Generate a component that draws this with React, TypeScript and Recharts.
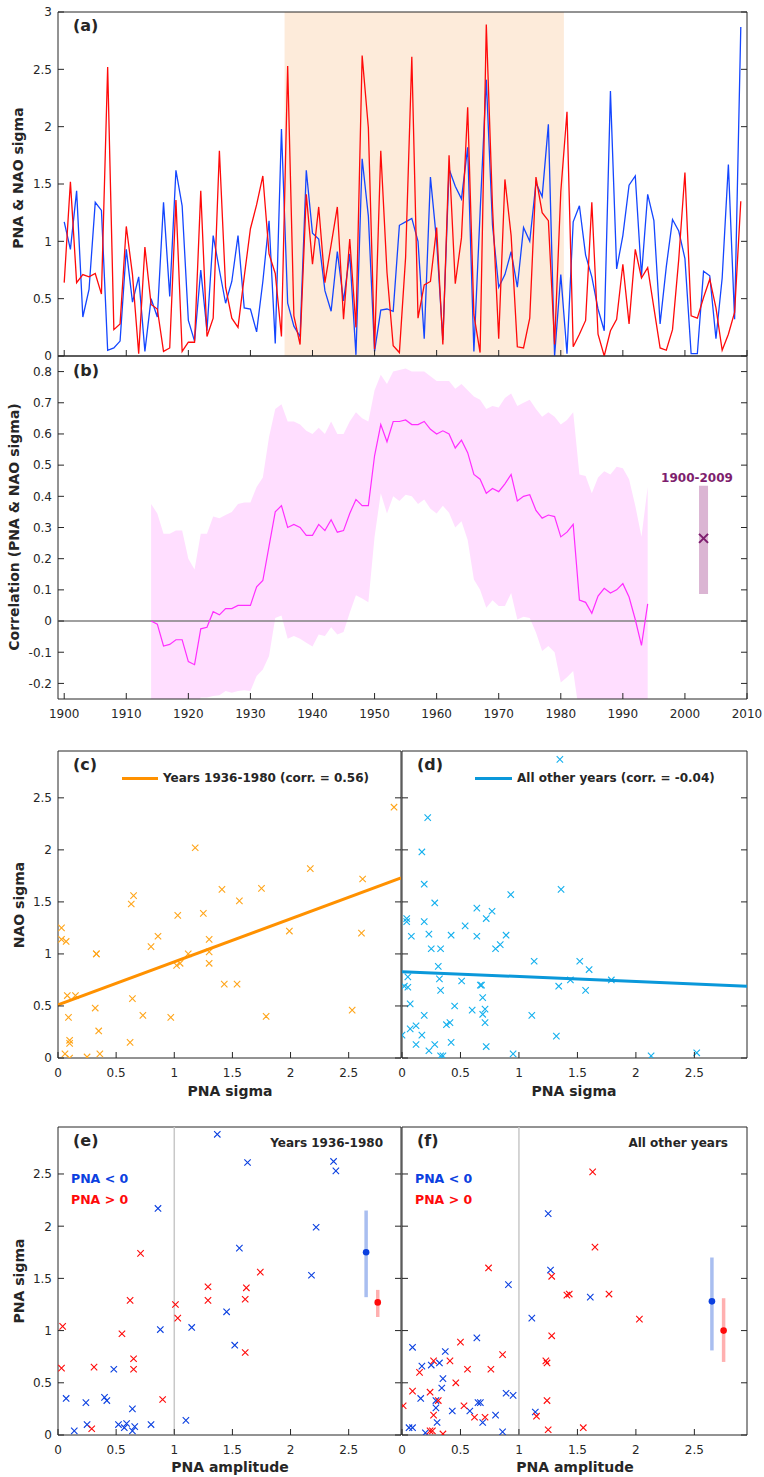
import React from "react";
import {
  ComposedChart, ScatterChart, Line, Area, Scatter, XAxis, YAxis,
  ReferenceArea, ReferenceLine, ErrorBar,
} from "recharts";

const FONT = "DejaVu Sans";
const AXIS = "#262626";
const RED = "#FF0A0A";
const BLUE = "#1446FF";
const MK_BLUE = "#0B40E0";
const ORANGE_MK = "#FFA51A";
const ORANGE = "#FF9100";
const CYAN_MK = "#14B0EE";
const CYAN = "#0A98DA";
const PURPLE = "#7E1E6E";

// ── Panel (a): yearly sigma, 1900-2009 ───────────────────────────────────
const FIRST_YEAR = 1900;
const PNA_SIGMA = [
  0.64, 1.52, 0.64, 0.71, 0.69, 0.72, 0.54, 2.52, 0.23, 0.28,
  1.13, 0.71, 0.02, 0.95, 0.45, 0.41, 0.04, 0.07, 1.36, 0.04,
  0.12, 0.12, 1.44, 0.17, 0.33, 1.79, 0.60, 0.33, 0.25, 0.69,
  1.11, 1.32, 1.57, 0.89, 0.72, 0.17, 2.53, 0.35, 0.10, 1.41,
  0.80, 1.30, 0.64, 0.97, 1.30, 0.32, 1.02, 0.25, 2.62, 1.99,
  0.06, 1.79, 0.73, 0.09, 0.03, 0.86, 2.61, 0.33, 0.62, 0.65,
  1.12, 0.10, 1.75, 0.63, 1.03, 2.17, 0.36, 0.03, 2.89, 1.30,
  0.15, 1.54, 1.05, 0.08, 0.07, 0.33, 1.56, 1.25, 1.18, 0.10,
  1.43, 2.13, 0.08, 0.19, 0.31, 1.34, 0.19, 0.00, 0.22, 0.32,
  0.80, 0.28, 0.93, 0.68, 0.77, 0.42, 0.07, 0.05, 0.23, 0.84,
  1.60, 0.35, 0.33, 0.51, 0.67, 0.42, 0.05, 0.19, 0.38, 1.35,
];
const NAO_SIGMA = [
  1.17, 0.93, 1.44, 0.34, 0.58, 1.34, 1.27, 0.05, 0.07, 0.13,
  0.93, 0.47, 0.69, 0.04, 0.50, 0.34, 1.34, 0.52, 1.62, 1.31,
  0.31, 0.13, 0.75, 0.22, 1.05, 0.75, 0.46, 0.65, 1.05, 0.42,
  0.41, 0.21, 0.65, 1.18, 0.11, 1.98, 0.46, 0.26, 0.17, 1.62,
  1.07, 1.02, 0.57, 0.39, 0.91, 0.48, 0.89, 0.01, 1.72, 1.22,
  0.04, 0.40, 0.41, 0.39, 1.14, 1.17, 1.20, 1.00, 0.15, 1.56,
  1.00, 0.14, 1.63, 1.48, 1.37, 1.82, 0.04, 1.25, 2.41, 1.14,
  0.60, 0.71, 0.91, 0.60, 1.12, 1.00, 1.51, 1.39, 2.02, 0.00,
  0.71, 0.02, 1.17, 1.31, 0.88, 0.69, 0.41, 0.22, 2.31, 0.76,
  1.05, 1.49, 1.57, 0.70, 1.41, 1.18, 0.28, 0.78, 1.19, 1.09,
  0.85, 0.02, 0.02, 0.74, 0.70, 0.15, 0.68, 1.67, 0.32, 2.87,
];
const WINDOW = [1936, 1980];
const SHADE = [1935.5, 1980.5];

// ── Panel (b): running correlation, 1914-1994 ───────────────────────────
const CORR_START = 1914;
const CORR = [
  0.00, -0.01, -0.08, -0.075, -0.06, -0.06,
  -0.13, -0.14, -0.025, -0.02, 0.03, 0.02, 0.04, 0.04, 0.05, 0.05,
  0.05, 0.11, 0.13, 0.24, 0.35, 0.37, 0.30, 0.31, 0.30, 0.275,
  0.275, 0.31, 0.29, 0.325, 0.285, 0.29, 0.345, 0.39, 0.37, 0.37,
  0.53, 0.63, 0.575, 0.64, 0.64, 0.645, 0.63, 0.63, 0.64, 0.615,
  0.60, 0.61, 0.60, 0.555, 0.58, 0.54, 0.47, 0.455, 0.41, 0.425,
  0.415, 0.44, 0.47, 0.385, 0.40, 0.405, 0.355, 0.33, 0.34, 0.335,
  0.27, 0.285, 0.31, 0.067, 0.06, 0.025, 0.08, 0.105, 0.09, 0.10,
  0.12, 0.077, 0.005, -0.078, 0.055,
];
const CORR_HI = [
  0.375, 0.345, 0.28, 0.28, 0.29, 0.29,
  0.20, 0.165, 0.28, 0.28, 0.335, 0.33, 0.34, 0.35, 0.375, 0.38,
  0.38, 0.43, 0.46, 0.59, 0.68, 0.695, 0.64, 0.64, 0.63, 0.61,
  0.60, 0.62, 0.60, 0.64, 0.60, 0.60, 0.64, 0.67, 0.65, 0.64,
  0.74, 0.79, 0.76, 0.80, 0.805, 0.81, 0.80, 0.80, 0.80, 0.785,
  0.77, 0.77, 0.77, 0.745, 0.76, 0.74, 0.72, 0.71, 0.68, 0.69,
  0.685, 0.715, 0.73, 0.69, 0.70, 0.71, 0.68, 0.655, 0.67, 0.655,
  0.63, 0.645, 0.67, 0.47, 0.465, 0.41, 0.46, 0.48, 0.47, 0.495,
  0.49, 0.455, 0.37, 0.27, 0.43,
];
const CORR_LO = [
  -0.3, -0.3, -0.3, -0.3, -0.3, -0.3,
  -0.3, -0.28, -0.245, -0.245, -0.24, -0.238, -0.224, -0.23, -0.224, -0.222,
  -0.224, -0.176, -0.155, -0.112, 0.01, 0.018, -0.057, -0.048, -0.057, -0.07,
  -0.082, -0.043, -0.048, -0.02, -0.043, -0.035, 0.027, 0.083, 0.072, 0.06,
  0.27, 0.41, 0.345, 0.40, 0.385, 0.405, 0.40, 0.375, 0.39, 0.36,
  0.345, 0.37, 0.347, 0.30, 0.32, 0.26, 0.133, 0.10, 0.043, 0.067,
  0.048, 0.048, 0.09, 0.005, 0.014, 0.01, -0.037, -0.096, -0.08, -0.10,
  -0.197, -0.18, -0.16, -0.3, -0.3, -0.3, -0.3, -0.3, -0.3, -0.3,
  -0.3, -0.3, -0.3, -0.3, -0.3,
];
const FULL_CORR = { year: 2003, r: 0.265, lo: 0.087, hi: 0.434 };

// ── Panels (c),(d): fitted lines ─────────────────────────────────────────
const FIT_IN_X = [0, 2.95];
const FIT_IN_Y = [0.51, 1.73];
const FIT_OUT_X = [0, 2.95];
const FIT_OUT_Y = [0.83, 0.69];

// ── Panel (e): 1936-1980, PNA amplitude vs PNA sigma ────────────────────
const E_NEG_AMP = [1.37, 1.63, 2.37, 2.39, 0.86, 2.22, 1.56, 2.18, 1.45, 1.15, 0.88, 1.52, 0.48, 0.07, 0.40, 0.42, 0.24, 0.64, 1.10, 0.14, 0.25, 0.52, 0.57, 0.59, 0.66, 0.64, 0.80];
const E_NEG_SIG = [2.88, 2.61, 2.62, 2.53, 2.17, 1.99, 1.79, 1.53, 1.18, 1.03, 1.01, 0.86, 0.63, 0.35, 0.36, 0.33, 0.31, 0.25, 0.14, 0.04, 0.10, 0.10, 0.07, 0.11, 0.08, 0.04, 0.10];
const E_POS_AMP = [0.71, 1.74, 1.29, 1.62, 0.62, 1.29, 1.61, 1.01, 1.03, 0.04, 0.55, 1.61, 0.65, 0.03, 0.31, 0.65, 0.90, 0.29];
const E_POS_SIG = [1.74, 1.56, 1.42, 1.41, 1.29, 1.29, 1.30, 1.25, 1.12, 1.04, 0.97, 0.79, 0.73, 0.64, 0.65, 0.63, 0.34, 0.06];
const E_MEAN_NEG = { x: 2.65, y: 1.75, lo: 1.32, hi: 2.15 };
const E_MEAN_POS = { x: 2.75, y: 1.27, lo: 1.13, hi: 1.39 };

// ── Panel (f): all other years ───────────────────────────────────────────
const F_NEG_AMP = [1.25, 1.27, 0.91, 1.61, 1.11, 0.64, 0.09, 0.37, 0.17, 0.25, 0.32, 0.35, 0.34, 0.89, 0.95, 0.16, 0.29, 0.65, 0.67, 0.29, 0.43, 0.58, 0.80, 1.14, 0.30, 0.69, 0.06, 0.09, 0.20, 0.86];
const F_NEG_SIG = [2.12, 1.58, 1.44, 1.32, 1.12, 0.93, 0.84, 0.80, 0.66, 0.67, 0.69, 0.54, 0.45, 0.40, 0.38, 0.35, 0.33, 0.31, 0.31, 0.26, 0.23, 0.23, 0.19, 0.22, 0.12, 0.12, 0.07, 0.07, 0.02, 0.03];
const F_POS_AMP = [1.63, 1.65, 0.74, 1.28, 1.41, 1.43, 1.77, 2.03, 1.28, 0.50, 0.41, 0.27, 0.86, 1.23, 1.24, 0.56, 0.76, 0.15, 0.46, 0.09, 0.24, 0.31, 1.24, 0.01, 0.53, 0.27, 0.62, 0.71, 1.15, 0.24, 0.26, 0.35, 1.25, 1.55];
const F_POS_SIG = [2.52, 1.80, 1.60, 1.52, 1.34, 1.35, 1.35, 1.11, 0.95, 0.89, 0.71, 0.71, 0.77, 0.71, 0.69, 0.63, 0.63, 0.60, 0.50, 0.42, 0.41, 0.33, 0.33, 0.28, 0.28, 0.19, 0.17, 0.17, 0.18, 0.04, 0.04, 0.01, 0.05, 0.07];
const F_MEAN_NEG = { x: 2.65, y: 1.28, lo: 0.81, hi: 1.70 };
const F_MEAN_POS = { x: 2.75, y: 1.00, lo: 0.70, hi: 1.31 };

// ── Ticks / domains ──────────────────────────────────────────────────────
const YEAR_TICKS = [1900, 1910, 1920, 1930, 1940, 1950, 1960, 1970, 1980, 1990, 2000, 2010];
const YEAR_DOMAIN = [1899, 2010];
const A_TICKS = [0, 0.5, 1, 1.5, 2, 2.5, 3];
const A_DOMAIN = [0, 3];
const B_TICKS = [-0.2, -0.1, 0, 0.1, 0.2, 0.3, 0.4, 0.5, 0.6, 0.7, 0.8];
const B_DOMAIN = [-0.25, 0.85];
const SIG_TICKS = [0, 0.5, 1, 1.5, 2, 2.5];
const SIG_DOMAIN = [0, 2.95];

// ── Derived tables ───────────────────────────────────────────────────────
const years = PNA_SIGMA.map((_, i) => FIRST_YEAR + i);
const seriesA = years.map((year, i) => ({ year, pna: PNA_SIGMA[i], nao: NAO_SIGMA[i] }));
const pairs = years.map((yr, i) => ({ yr, x: PNA_SIGMA[i], y: NAO_SIGMA[i] }));
const inWindow = pairs.filter((p) => p.yr >= WINDOW[0] && p.yr <= WINDOW[1]);
const outWindow = pairs.filter((p) => p.yr < WINDOW[0] || p.yr > WINDOW[1]);
const corrData = CORR.map((r, i) => ({ year: CORR_START + i, r, band: [CORR_LO[i], CORR_HI[i]] }));
const fullCorr = [{ ...FULL_CORR, err: [FULL_CORR.r - FULL_CORR.lo, FULL_CORR.hi - FULL_CORR.r] }];
const zip = (xs: number[], ys: number[]) => xs.map((x, i) => ({ x, y: ys[i] }));
const meanRow = (m: { x: number; y: number; lo: number; hi: number }) => [{ x: m.x, y: m.y, err: [m.y - m.lo, m.hi - m.y] }];

// ── Marker shapes ────────────────────────────────────────────────────────
const cross = (color: string, s = 3.2, w = 1.1) => (p: any) => {
  const { cx, cy } = p;
  if (cx == null || cy == null) return <g />;
  return (
    <path
      d={`M${cx - s},${cy - s}L${cx + s},${cy + s}M${cx - s},${cy + s}L${cx + s},${cy - s}`}
      stroke={color} strokeWidth={w} fill="none"
    />
  );
};
const dot = (color: string) => (p: any) => <circle cx={p.cx} cy={p.cy} r={3.3} fill={color} />;
const nothing = () => <g />;

// ── MATLAB-style inward ticks (custom tick: inward mark + outside label) ─
const TICK_LEN = 6;
const GAP_X = 10;
const GAP_Y = 6;
function inward(side: "bottom" | "top" | "left" | "right", label: boolean) {
  const gap = label ? (side === "left" ? GAP_Y : GAP_X) : 0;
  return (p: any) => {
    const { x, y, payload } = p;
    let x1 = x, y1 = y, x2 = x, y2 = y;
    if (side === "bottom") { y1 = y - gap; y2 = y1 - TICK_LEN; }
    if (side === "top") { y1 = y + gap; y2 = y1 + TICK_LEN; }
    if (side === "left") { x1 = x + gap; x2 = x1 + TICK_LEN; }
    if (side === "right") { x1 = x - gap; x2 = x1 - TICK_LEN; }
    return (
      <g>
        <line x1={x1} y1={y1} x2={x2} y2={y2} stroke={AXIS} strokeWidth={1} />
        {label && (
          <text x={x} y={y} textAnchor={side === "left" ? "end" : "middle"}
            dy={side === "left" ? "0.36em" : "0.72em"} fontSize={12} fill={AXIS} fontFamily={FONT}>
            {String(payload.value)}
          </text>
        )}
      </g>
    );
  };
}
const ax = (side: "bottom" | "top" | "left" | "right", label: boolean) => ({
  type: "number" as const,
  allowDataOverflow: true,
  interval: 0 as const,
  axisLine: false,
  tickLine: false,
  tickSize: 0,
  tickMargin: label ? (side === "left" ? GAP_Y : GAP_X) : 0,
  tick: inward(side, label),
});

// ── Text helpers ─────────────────────────────────────────────────────────
function T({ x, y, children, size = 12, color = AXIS, bold = true, align = "left", rotate = false }: any) {
  const tx = align === "left" ? "0" : align === "right" ? "-100%" : "-50%";
  return (
    <div style={{
      position: "absolute", left: x, top: y, whiteSpace: "nowrap", lineHeight: 1,
      fontSize: size, fontWeight: bold ? 700 : 400, color, fontFamily: FONT,
      transform: `translate(${tx}, -50%)${rotate ? " rotate(-90deg)" : ""}`,
      transformOrigin: "50% 50%",
    }}>{children}</div>
  );
}
const VT = ({ x, y, children }: any) => <T x={x} y={y} size={14} align="center" rotate>{children}</T>;
const HT = ({ x, y, children }: any) => <T x={x} y={y} size={14} align="center">{children}</T>;

function Frame({ x, y }: any) {
  return <ReferenceArea x1={x[0]} x2={x[1]} y1={y[0]} y2={y[1]} fill="none" stroke={AXIS} strokeWidth={1} ifOverflow="visible" />;
}

function ScatterPanel({ left, top, width, height, margin, yLabels, children }: any) {
  return (
    <div style={{ position: "absolute", left, top }}>
      <ScatterChart width={width} height={height} margin={margin}>
        <XAxis dataKey="x" {...ax("bottom", true)} domain={SIG_DOMAIN} ticks={SIG_TICKS} height={40} />
        <XAxis xAxisId="top" orientation="top" {...ax("top", false)} domain={SIG_DOMAIN} ticks={SIG_TICKS} height={1} />
        <YAxis dataKey="y" {...ax("left", !!yLabels)} domain={SIG_DOMAIN} ticks={SIG_TICKS} width={yLabels ? 58 : 1} />
        <YAxis yAxisId="right" orientation="right" {...ax("right", false)} domain={SIG_DOMAIN} ticks={SIG_TICKS} width={1} />
        {children}
        <Frame x={SIG_DOMAIN} y={SIG_DOMAIN} />
      </ScatterChart>
    </div>
  );
}

export default function App() {
  return (
    <div style={{ position: "absolute", left: 0, top: 0, width: 764, height: 1477, background: "#fff", fontFamily: FONT }}>
      {/* (a) sigma time series */}
      <div style={{ position: "absolute", left: 0, top: 0 }}>
        <ComposedChart width={764} height={372} data={seriesA} margin={{ top: 11, right: 16, bottom: 15, left: 0 }}>
          <XAxis dataKey="year" {...ax("bottom", false)} domain={YEAR_DOMAIN} ticks={YEAR_TICKS} height={1} />
          <XAxis xAxisId="top" orientation="top" {...ax("top", false)} domain={YEAR_DOMAIN} ticks={YEAR_TICKS} height={1} />
          <YAxis {...ax("left", true)} domain={A_DOMAIN} ticks={A_TICKS} width={58} />
          <YAxis yAxisId="right" orientation="right" {...ax("right", false)} domain={A_DOMAIN} ticks={A_TICKS} width={1} />
          <ReferenceArea x1={SHADE[0]} x2={SHADE[1]} fill="#FDEBDA" fillOpacity={1} stroke="none" />
          <Line dataKey="nao" stroke={BLUE} strokeWidth={1.3} dot={false} isAnimationActive={false} />
          <Line dataKey="pna" stroke={RED} strokeWidth={1.3} dot={false} isAnimationActive={false} />
          <Frame x={YEAR_DOMAIN} y={A_DOMAIN} />
        </ComposedChart>
      </div>

      {/* (b) running correlation */}
      <div style={{ position: "absolute", left: 0, top: 355 }}>
        <ComposedChart width={764} height={381} data={corrData} margin={{ top: 0, right: 16, bottom: 7, left: 0 }}>
          <XAxis dataKey="year" {...ax("bottom", true)} domain={YEAR_DOMAIN} ticks={YEAR_TICKS} height={30} />
          <XAxis xAxisId="top" orientation="top" {...ax("top", false)} domain={YEAR_DOMAIN} ticks={YEAR_TICKS} height={1} />
          <YAxis {...ax("left", true)} domain={B_DOMAIN} ticks={B_TICKS} width={58} />
          <YAxis yAxisId="right" orientation="right" {...ax("right", false)} domain={B_DOMAIN} ticks={B_TICKS} width={1} />
          <Area dataKey="band" type="linear" fill="#FFDEFF" fillOpacity={1} stroke="none" isAnimationActive={false} />
          <ReferenceLine y={0} stroke="#808080" strokeWidth={1.5} />
          <Line dataKey="r" stroke="#FF2EFF" strokeWidth={1.2} dot={false} isAnimationActive={false} />
          <Scatter data={fullCorr} dataKey="r" shape={cross(PURPLE, 4.5, 2)} isAnimationActive={false}>
            <ErrorBar dataKey="err" direction="y" width={0} strokeWidth={9} stroke="#DBB5D3" />
          </Scatter>
          <Frame x={YEAR_DOMAIN} y={B_DOMAIN} />
        </ComposedChart>
      </div>

      {/* (c) 1936-1980 */}
      <ScatterPanel left={0} top={740} width={402} height={370} margin={{ top: 10, right: 0, bottom: 12, left: 0 }} yLabels>
        <Scatter data={inWindow} shape={cross(ORANGE_MK)} isAnimationActive={false} />
        <Scatter data={zip(FIT_IN_X, FIT_IN_Y)} line={{ stroke: ORANGE, strokeWidth: 3 }} shape={nothing} isAnimationActive={false} />
      </ScatterPanel>

      {/* (d) other years */}
      <ScatterPanel left={381} top={740} width={383} height={370} margin={{ top: 10, right: 16, bottom: 12, left: 20 }}>
        <Scatter data={outWindow} shape={cross(CYAN_MK)} isAnimationActive={false} />
        <Scatter data={zip(FIT_OUT_X, FIT_OUT_Y)} line={{ stroke: CYAN, strokeWidth: 3 }} shape={nothing} isAnimationActive={false} />
      </ScatterPanel>

      {/* (e) amplitude vs sigma, 1936-1980 */}
      <ScatterPanel left={0} top={1116} width={402} height={361} margin={{ top: 10, right: 0, bottom: 2, left: 0 }} yLabels>
        <ReferenceLine x={1} stroke="#C8C8C8" strokeWidth={1.5} />
        <Scatter data={zip(E_NEG_AMP, E_NEG_SIG)} shape={cross(MK_BLUE)} isAnimationActive={false} />
        <Scatter data={zip(E_POS_AMP, E_POS_SIG)} shape={cross(RED)} isAnimationActive={false} />
        <Scatter data={meanRow(E_MEAN_NEG)} shape={dot(MK_BLUE)} isAnimationActive={false}>
          <ErrorBar dataKey="err" direction="y" width={0} strokeWidth={3.5} stroke="#A9BEF0" />
        </Scatter>
        <Scatter data={meanRow(E_MEAN_POS)} shape={dot(RED)} isAnimationActive={false}>
          <ErrorBar dataKey="err" direction="y" width={0} strokeWidth={3.5} stroke="#FFB0B0" />
        </Scatter>
      </ScatterPanel>

      {/* (f) amplitude vs sigma, other years */}
      <ScatterPanel left={381} top={1116} width={383} height={361} margin={{ top: 10, right: 16, bottom: 2, left: 20 }}>
        <ReferenceLine x={1} stroke="#C8C8C8" strokeWidth={1.5} />
        <Scatter data={zip(F_NEG_AMP, F_NEG_SIG)} shape={cross(MK_BLUE)} isAnimationActive={false} />
        <Scatter data={zip(F_POS_AMP, F_POS_SIG)} shape={cross(RED)} isAnimationActive={false} />
        <Scatter data={meanRow(F_MEAN_NEG)} shape={dot(MK_BLUE)} isAnimationActive={false}>
          <ErrorBar dataKey="err" direction="y" width={0} strokeWidth={3.5} stroke="#A9BEF0" />
        </Scatter>
        <Scatter data={meanRow(F_MEAN_POS)} shape={dot(RED)} isAnimationActive={false}>
          <ErrorBar dataKey="err" direction="y" width={0} strokeWidth={3.5} stroke="#FFB0B0" />
        </Scatter>
      </ScatterPanel>

      {/* panel letters */}
      <T x={73} y={26} size={16}>(a)</T>
      <T x={73} y={371} size={16}>(b)</T>
      <T x={73} y={765} size={16}>(c)</T>
      <T x={417} y={765} size={16}>(d)</T>
      <T x={73} y={1141} size={16}>(e)</T>
      <T x={417} y={1141} size={16}>(f)</T>

      {/* axis titles */}
      <VT x={18} y={178}>PNA &amp; NAO sigma</VT>
      <VT x={14} y={527}>Correlation (PNA &amp; NAO sigma)</VT>
      <VT x={19} y={905}>NAO sigma</VT>
      <VT x={19} y={1281}>PNA sigma</VT>
      <HT x={230} y={1091}>PNA sigma</HT>
      <HT x={574} y={1091}>PNA sigma</HT>
      <HT x={230} y={1467}>PNA amplitude</HT>
      <HT x={575} y={1467}>PNA amplitude</HT>

      {/* (b) full-period label */}
      <T x={697} y={478} color={PURPLE} align="center">1900-2009</T>

      {/* legends (c),(d) */}
      <div style={{ position: "absolute", left: 122, top: 777, width: 36, height: 3, background: ORANGE }} />
      <T x={163} y={778}>Years 1936-1980 (corr. = 0.56)</T>
      <div style={{ position: "absolute", left: 475, top: 777, width: 37, height: 3, background: CYAN }} />
      <T x={517} y={778}>All other years (corr. = -0.04)</T>

      {/* (e),(f) annotations */}
      <T x={383} y={1143} align="right">Years 1936-1980</T>
      <T x={728} y={1143} align="right">All other years</T>
      <T x={71} y={1179} size={12.5} color={MK_BLUE}>PNA &lt; 0</T>
      <T x={71} y={1200} size={12.5} color={RED}>PNA &gt; 0</T>
      <T x={415} y={1179} size={12.5} color={MK_BLUE}>PNA &lt; 0</T>
      <T x={415} y={1200} size={12.5} color={RED}>PNA &gt; 0</T>
    </div>
  );
}
